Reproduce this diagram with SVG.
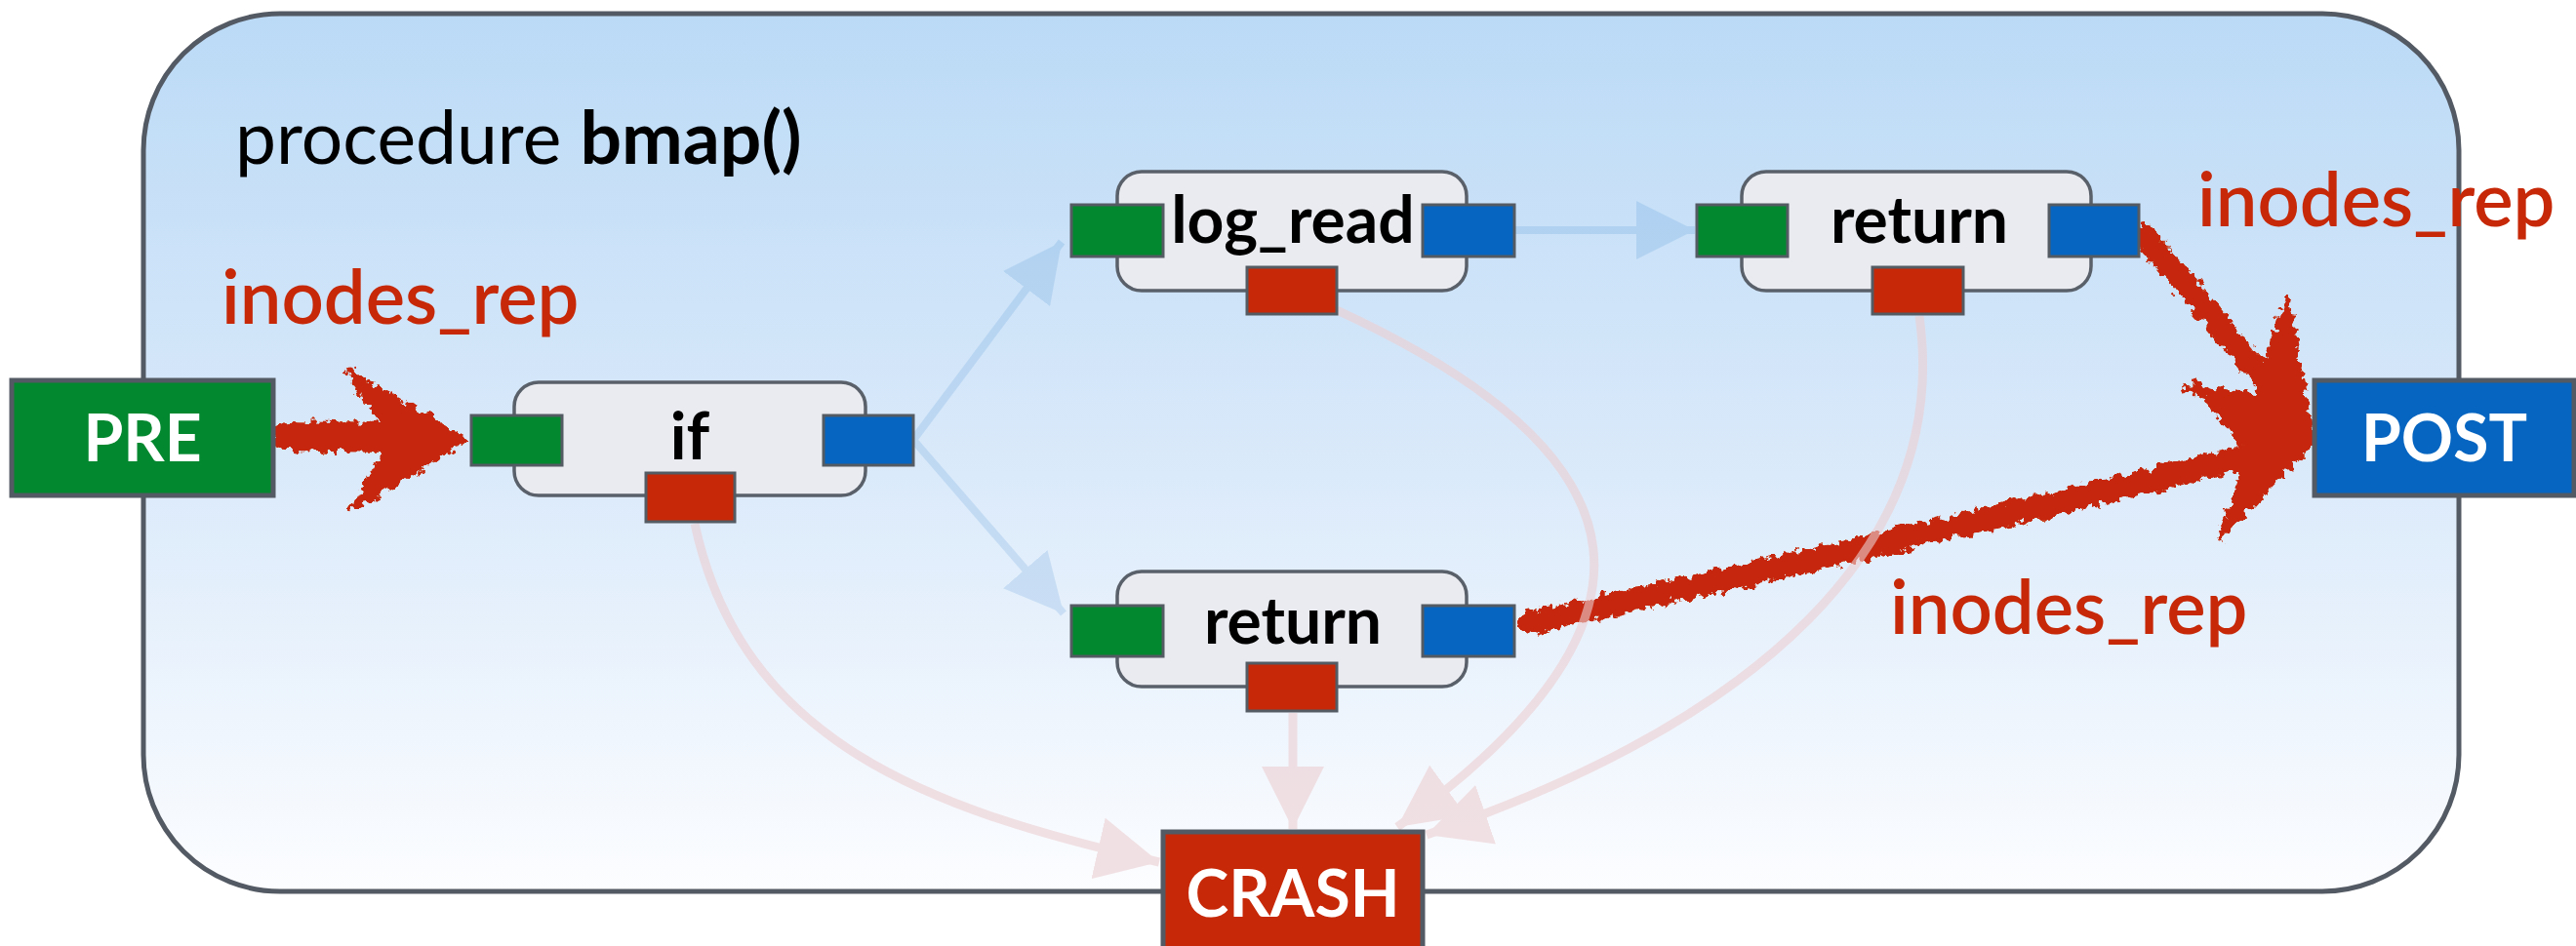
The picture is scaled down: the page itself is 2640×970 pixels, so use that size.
<svg xmlns="http://www.w3.org/2000/svg" width="2640" height="970" viewBox="0 0 2640 970">
<defs>
<linearGradient id="bg" x1="0" y1="0" x2="0" y2="1">
<stop offset="0" stop-color="#bbdaf6"/>
<stop offset="0.5" stop-color="#d9e9fa"/>
<stop offset="1" stop-color="#fcfdff"/>
</linearGradient>
<marker id="mb" markerUnits="userSpaceOnUse" markerWidth="60" markerHeight="60" refX="40" refY="20" orient="auto" viewBox="0 0 40 40">
<path d="M0,0 L40,20 L0,40 Z" fill="#0565c0"/>
</marker>
<marker id="mp" markerUnits="userSpaceOnUse" markerWidth="64" markerHeight="64" refX="44" refY="22" orient="auto" viewBox="0 0 44 44">
<path d="M0,0 L44,22 L0,44 Z" fill="#eccfd2"/>
</marker>
<filter id="rough" x="-10%" y="-10%" width="120%" height="120%">
<feTurbulence type="fractalNoise" baseFrequency="0.11" numOctaves="3" seed="5" result="n"/>
<feDisplacementMap in="SourceGraphic" in2="n" scale="16" xChannelSelector="R" yChannelSelector="G"/>
</filter>
<style>
.node{fill:#e9ebf0;stroke:#5a6069;stroke-width:3.5}
.port{stroke:#555b63;stroke-width:3}
.g{fill:#02882f}.b{fill:#0565c0}.r{fill:#c62808}
.term{stroke:#545a63;stroke-width:5}
.lbl{font-family:Lato,"Liberation Sans",sans-serif;font-weight:bold;font-size:66px;fill:#000;text-anchor:middle}
.tl{font-family:Lato,"Liberation Sans",sans-serif;font-weight:bold;font-size:66px;fill:#fff;text-anchor:middle}
.rep{font-family:Lato,"Liberation Sans",sans-serif;font-weight:600;font-size:76px;fill:#c62808}
.cb{fill:none;stroke:#0565c0;stroke-width:8}
.cp{fill:none;stroke:#eccfd2;stroke-width:9}
.rs{fill:none;stroke:#c62808;stroke-linecap:round;stroke-linejoin:round}
.rh{fill:#c62808;stroke:#c62808;stroke-width:5;stroke-linejoin:round}
</style>
</defs>
<rect x="0" y="0" width="2640" height="970" fill="#ffffff"/>
<g id="procedure">
<rect x="147" y="14" width="2373" height="900" rx="140" ry="140" fill="url(#bg)" stroke="#545a63" stroke-width="5"/>
<text x="241" y="168" font-family="Lato,'Liberation Sans',sans-serif" font-size="75" fill="#000">procedure <tspan font-weight="bold">bmap()</tspan></text>
</g>
<g id="connectors">
<g id="red-arrows" filter="url(#rough)">
<path class="rs" stroke-width="30" d="M294,447 L440,450"/>
<polygon class="rh" points="356,380 478,451 360,523 402,451"/>
<path class="rs" stroke-width="24" d="M2198,242 L2330,400"/>
<polygon class="rh" points="2344,305 2370,452 2237,397 2312,405"/>
<path class="rs" stroke-width="24" d="M1570,638 Q1950,555 2330,462"/>
<polygon class="rh" points="2250,392 2370,452 2275,552 2305,466"/>
</g>
<g id="flow" opacity="0.12">
<path class="cb" d="M936,451 L1088,248" marker-end="url(#mb)"/>
<path class="cb" d="M936,451 L1090,629" marker-end="url(#mb)"/>
<path class="cb" d="M1552,236 L1737,236" marker-end="url(#mb)"/>
</g>
<g id="crash-flow" opacity="0.6">
<path class="cp" d="M712,537 C760,760 950,830 1188,884" marker-end="url(#mp)"/>
<path class="cp" d="M1370,318 C1700,470 1720,640 1432,848" marker-end="url(#mp)"/>
<path class="cp" d="M1967,324 C2000,560 1800,740 1462,856" marker-end="url(#mp)"/>
<path class="cp" d="M1325,731 L1325,850" marker-end="url(#mp)"/>
</g>
</g>
<g id="inodes_rep_labels">
<text class="rep" x="227" y="332">inodes_rep</text>
<text class="rep" x="2252" y="232">inodes_rep</text>
<text class="rep" x="1937" y="650">inodes_rep</text>
</g>
<g id="PRE">
<rect class="term g" x="12" y="390" width="268" height="118"/>
<text class="tl" x="146" y="473">PRE</text>
</g>
<g id="POST">
<rect class="term b" x="2372" y="390" width="266" height="118"/>
<text class="tl" x="2505" y="473">POST</text>
</g>
<g id="CRASH">
<rect class="term r" x="1192" y="853" width="266" height="130"/>
<text class="tl" x="1325" y="940">CRASH</text>
</g>
<g id="if">
<rect class="node" x="527" y="392" width="360" height="116" rx="25"/>
<rect class="port g" x="483" y="426" width="93" height="51"/>
<rect class="port b" x="844" y="426" width="92" height="51"/>
<rect class="port r" x="662" y="485" width="91" height="50"/>
<text class="lbl" x="707" y="471">if</text>
</g>
<g id="log_read">
<rect class="node" x="1145" y="176" width="358" height="122" rx="25"/>
<rect class="port g" x="1098" y="210" width="94" height="53"/>
<rect class="port b" x="1458" y="210" width="94" height="53"/>
<rect class="port r" x="1278" y="274" width="92" height="48"/>
<text class="lbl" x="1325" y="249">log_read</text>
</g>
<g id="return1">
<rect class="node" x="1785" y="176" width="358" height="122" rx="25"/>
<rect class="port g" x="1739" y="210" width="93" height="53"/>
<rect class="port b" x="2100" y="210" width="92" height="53"/>
<rect class="port r" x="1919" y="274" width="93" height="48"/>
<text class="lbl" x="1967" y="249">return</text>
</g>
<g id="return2">
<rect class="node" x="1145" y="586" width="358" height="118" rx="25"/>
<rect class="port g" x="1098" y="621" width="94" height="52"/>
<rect class="port b" x="1458" y="621" width="94" height="52"/>
<rect class="port r" x="1278" y="680" width="92" height="49"/>
<text class="lbl" x="1325" y="660">return</text>
</g>
</svg>
